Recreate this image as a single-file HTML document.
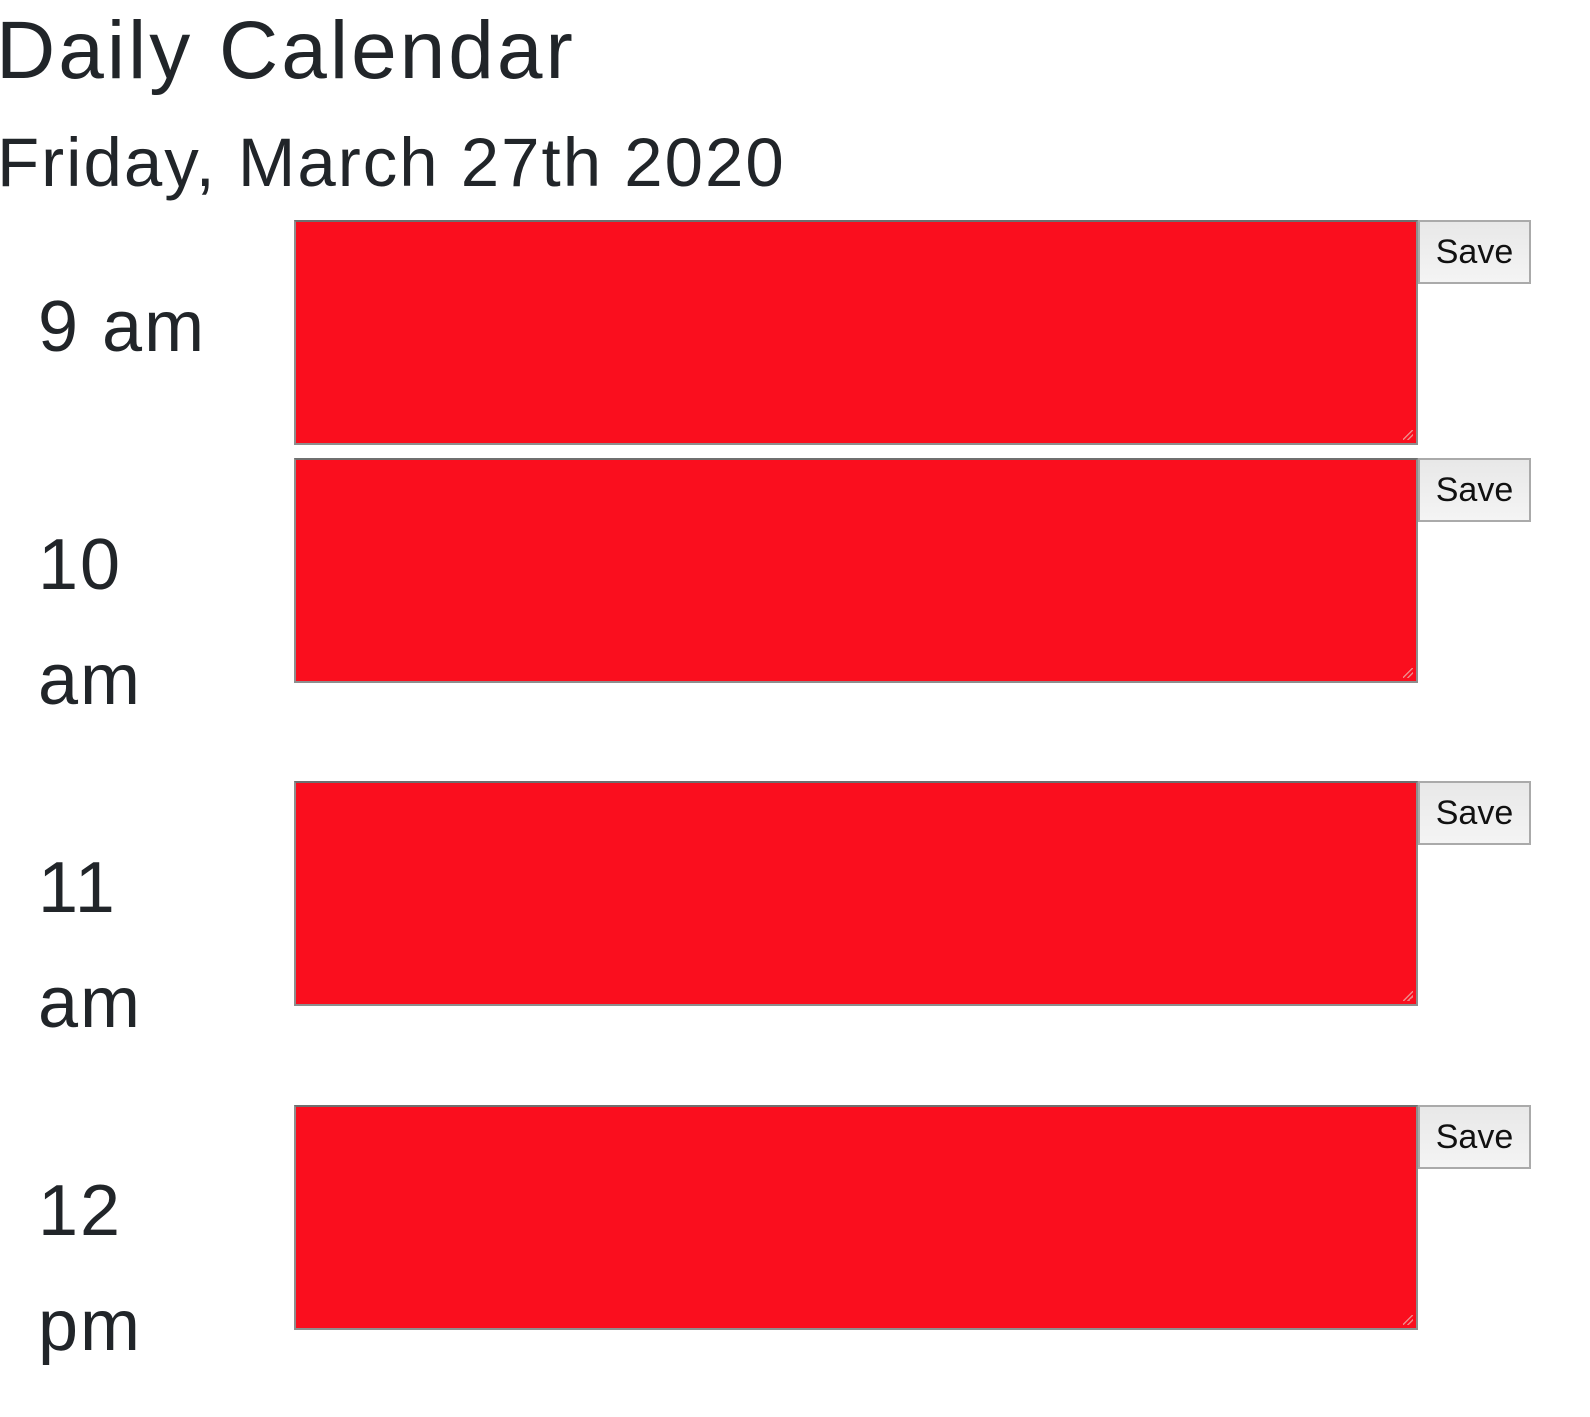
<!DOCTYPE html>
<html><head><meta charset="utf-8"><style>
body{margin:0;width:1590px;height:1417px;background:#fff;position:relative;overflow:hidden;font-family:"Liberation Sans",sans-serif;color:#212529}
.t{position:absolute;line-height:1;white-space:nowrap}
.ta{position:absolute;left:294px;width:1120px;height:221px;background:#fa0e1e;border:2px solid #8e8e8e;border-top-color:#6f6f6f;box-sizing:content-box;margin:0;padding:0;resize:none}
.ta::after{content:"";position:absolute;right:3px;bottom:3px;width:10px;height:10px;background:linear-gradient(135deg,transparent 45%,#e88 45%,#e88 55%,transparent 55%,transparent 70%,#e88 70%,#e88 80%,transparent 80%)}
.sv{position:absolute;left:1418px;width:113px;height:64px;box-sizing:border-box;border:2px solid #aaa;background:linear-gradient(#e8e8e8,#f4f4f4);font-size:34px;color:#111;text-align:center;line-height:60px}
.h{font-size:72px;line-height:115px;margin-top:-23px;white-space:normal;width:140px;letter-spacing:2px}
</style></head><body>
<div class="t" style="left:-4px;top:10px;font-size:82px;letter-spacing:3px">Daily Calendar</div>
<div class="t" style="left:-3px;top:128px;font-size:69px;letter-spacing:2px">Friday, March 27th 2020</div>

<div class="t" style="left:38px;top:291px;font-size:72px;letter-spacing:2px">9 am</div>
<div class="ta" style="top:220px"></div>
<div class="sv" style="top:220px">Save</div>

<div class="t h" style="left:38px;top:531px">10 am</div>
<div class="ta" style="top:458px"></div>
<div class="sv" style="top:458px">Save</div>

<div class="t h" style="left:38px;top:854px">11 am</div>
<div class="ta" style="top:781px"></div>
<div class="sv" style="top:781px">Save</div>

<div class="t h" style="left:38px;top:1177px">12 pm</div>
<div class="ta" style="top:1105px"></div>
<div class="sv" style="top:1105px">Save</div>
</body></html>
